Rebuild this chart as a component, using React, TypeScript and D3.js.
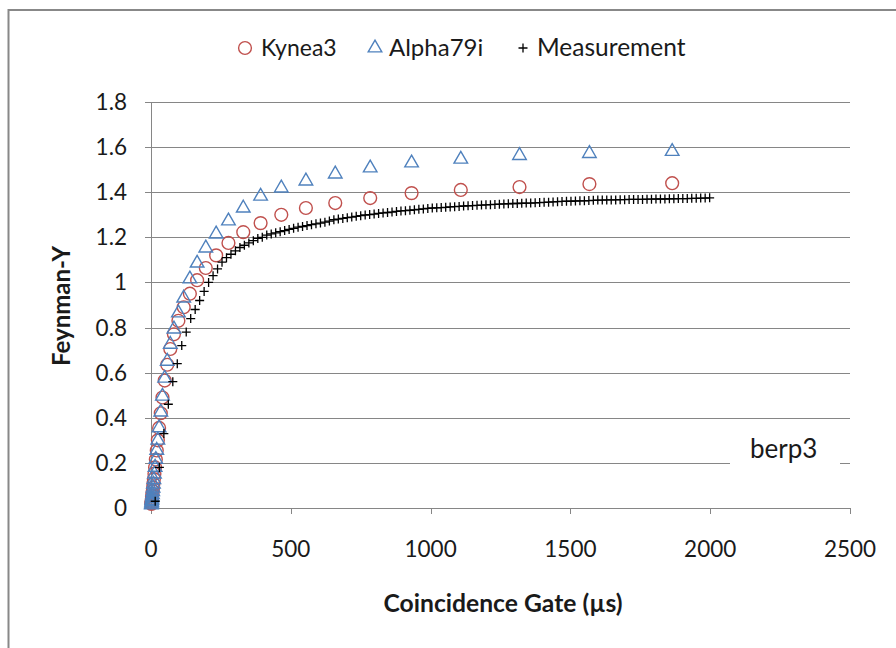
import React from "react";
import * as d3 from "d3";

// Model gate widths (µs) shared by Kynea3 and Alpha79i
const modelGates = [1864, 1568, 1318, 1108, 932, 784, 659, 554, 466, 392, 330, 277, 233, 196, 165, 139, 117, 98, 82, 69, 58, 49, 41, 35, 29, 24.5, 20.6, 17.3, 14.6, 12.3, 10.3, 8.7, 7.3, 6.1, 5.1, 4.3, 3.6, 3.0, 2.6, 2.2, 1.8, 1.5];
const kynea3 = [1.44, 1.436, 1.423, 1.41, 1.396, 1.374, 1.352, 1.33, 1.3, 1.263, 1.223, 1.175, 1.12, 1.064, 1.01, 0.95, 0.89, 0.83, 0.77, 0.705, 0.635, 0.565, 0.49, 0.42, 0.355, 0.3, 0.255, 0.215, 0.18, 0.152, 0.128, 0.108, 0.09, 0.075, 0.063, 0.053, 0.044, 0.037, 0.031, 0.026, 0.021, 0.018];
const alpha79i = [1.585, 1.576, 1.567, 1.551, 1.534, 1.512, 1.485, 1.454, 1.423, 1.387, 1.334, 1.277, 1.219, 1.157, 1.09, 1.02, 0.935, 0.869, 0.798, 0.73, 0.655, 0.58, 0.5, 0.43, 0.36, 0.305, 0.26, 0.22, 0.185, 0.155, 0.13, 0.11, 0.092, 0.077, 0.064, 0.054, 0.045, 0.038, 0.032, 0.027, 0.022, 0.018];

const measGates = [15, 30, 46, 62, 78, 94, 110, 126, 142, 158, 174, 190, 206, 222, 238, 254, 270, 286, 302, 318, 334, 350, 366, 382, 398, 414, 430, 446, 462, 478, 494, 510, 526, 542, 558, 574, 590, 606, 622, 638, 654, 670, 686, 702, 718, 734, 750, 766, 782, 798, 814, 830, 846, 862, 878, 894, 910, 926, 942, 958, 974, 990, 1006, 1022, 1038, 1054, 1070, 1086, 1102, 1118, 1134, 1150, 1166, 1182, 1198, 1214, 1230, 1246, 1262, 1278, 1294, 1310, 1326, 1342, 1358, 1374, 1390, 1406, 1422, 1438, 1454, 1470, 1486, 1502, 1518, 1534, 1550, 1566, 1582, 1598, 1614, 1630, 1646, 1662, 1678, 1694, 1710, 1726, 1742, 1758, 1774, 1790, 1806, 1822, 1838, 1854, 1870, 1886, 1902, 1918, 1934, 1950, 1966, 1982, 1998];
const measurement = [0.03, 0.18, 0.33, 0.46, 0.56, 0.64, 0.72, 0.78, 0.84, 0.88, 0.92, 0.96, 1.0, 1.03, 1.06, 1.09, 1.11, 1.125, 1.14, 1.155, 1.165, 1.175, 1.185, 1.195, 1.2, 1.21, 1.215, 1.22, 1.225, 1.23, 1.235, 1.24, 1.245, 1.248, 1.252, 1.256, 1.26, 1.263, 1.267, 1.272, 1.278, 1.281, 1.284, 1.287, 1.29, 1.293, 1.296, 1.299, 1.301, 1.303, 1.306, 1.308, 1.31, 1.312, 1.315, 1.317, 1.318, 1.32, 1.322, 1.324, 1.326, 1.328, 1.33, 1.331, 1.332, 1.333, 1.335, 1.336, 1.337, 1.339, 1.34, 1.341, 1.342, 1.343, 1.344, 1.345, 1.346, 1.347, 1.348, 1.349, 1.35, 1.35, 1.351, 1.352, 1.352, 1.353, 1.354, 1.355, 1.356, 1.357, 1.358, 1.359, 1.36, 1.36, 1.361, 1.362, 1.362, 1.363, 1.364, 1.365, 1.365, 1.366, 1.366, 1.366, 1.367, 1.367, 1.368, 1.368, 1.368, 1.368, 1.369, 1.369, 1.37, 1.37, 1.37, 1.371, 1.371, 1.372, 1.372, 1.372, 1.373, 1.373, 1.374, 1.374, 1.375];

const xTicks = [0, 500, 1000, 1500, 2000, 2500];
const yTicks = [0, 0.2, 0.4, 0.6, 0.8, 1, 1.2, 1.4, 1.6, 1.8];
const seriesNames = ["Kynea3", "Alpha79i", "Measurement"];

const RED = "#c0504d";
const BLUE = "#4f81bd";
const GRID = "#868686";
const TXT = "#1a1a1a";
const FONT = "Lato, 'Open Sans', sans-serif";

export default function App() {
  const x = d3.scaleLinear().domain([0, 2500]).range([151, 850]);
  const y = d3.scaleLinear().domain([0, 1.8]).range([508, 102]);
  const tri = d3.symbol().type(d3.symbolTriangle).size(80)() as string;

  const circle = (cx: number, cy: number, k: string) => (
    <circle key={k} cx={cx} cy={cy} r={6.4} fill="none" stroke={RED} strokeWidth={1.4} />
  );
  const triangle = (cx: number, cy: number, k: string) => (
    <path key={k} d={tri} transform={`translate(${cx},${cy + 1})`} fill="none" stroke={BLUE} strokeWidth={1.4} />
  );
  const plus = (cx: number, cy: number, k: string) => (
    <path key={k} d={`M${cx - 4.5},${cy}H${cx + 4.5}M${cx},${cy - 4.5}V${cy + 4.5}`} stroke="#000" strokeWidth={1.3} />
  );

  return (
    <svg width={896} height={648} style={{ position: "absolute", left: 0, top: 0, background: "#fff" }} fontFamily={FONT}>
      <rect x={0} y={0} width={896} height={648} fill="#fff" />
      <rect x={8.5} y={10} width={1000} height={1000} fill="none" stroke="#888" strokeWidth={2} />

      {/* gridlines */}
      {yTicks.map((t) => (
        <line key={"g" + t} x1={145} x2={850} y1={Math.round(y(t)) + 0.5} y2={Math.round(y(t)) + 0.5} stroke={GRID} strokeWidth={1} />
      ))}
      {/* y axis */}
      <line x1={151.5} x2={151.5} y1={y(1.8)} y2={y(0)} stroke={GRID} strokeWidth={1} />
      {/* x ticks */}
      {xTicks.map((t) => (
        <line key={"xt" + t} x1={Math.round(x(t)) + 0.5} x2={Math.round(x(t)) + 0.5} y1={508} y2={514} stroke={GRID} strokeWidth={1} />
      ))}

      {/* tick labels */}
      {yTicks.map((t) => (
        <text key={"yl" + t} x={127} y={y(t) + 8} textAnchor="end" fontSize={22.5} fill={TXT}>
          {t === 0 ? "0" : t === 1 ? "1" : t.toFixed(1)}
        </text>
      ))}
      {xTicks.map((t) => (
        <text key={"xl" + t} x={x(t)} y={557} textAnchor="middle" fontSize={22.5} fill={TXT}>
          {t}
        </text>
      ))}

      {/* axis titles */}
      <text x={503} y={612} textAnchor="middle" fontSize={24} fontWeight="bold" fill={TXT} textLength={239} lengthAdjust="spacingAndGlyphs">
        Coincidence Gate (µs)
      </text>
      <text transform="translate(70,306) rotate(-90)" textAnchor="middle" fontSize={24} fontWeight="bold" fill={TXT} textLength={120} lengthAdjust="spacingAndGlyphs">
        Feynman-Y
      </text>

      {/* berp3 label */}
      <rect x={730} y={436} width={110} height={32} fill="#fff" />
      <text x={750} y={458} fontSize={26} fill={TXT}>berp3</text>

      {/* series */}
      <g>{modelGates.map((g, i) => circle(x(g), y(kynea3[i]), "k" + i))}</g>
      <g>{modelGates.map((g, i) => triangle(x(g), y(alpha79i[i]), "a" + i))}</g>
      <g>{measGates.map((g, i) => plus(x(g), y(measurement[i]), "m" + i))}</g>

      {/* legend */}
      {circle(245, 48, "lk")}
      <text x={261} y={56} fontSize={23} fill={TXT}>{seriesNames[0]}</text>
      {triangle(375, 47, "la")}
      <text x={389} y={56} fontSize={24} fill={TXT}>{seriesNames[1]}</text>
      {plus(523, 48, "lm")}
      <text x={537} y={56} fontSize={24.5} fill={TXT}>{seriesNames[2]}</text>
    </svg>
  );
}
